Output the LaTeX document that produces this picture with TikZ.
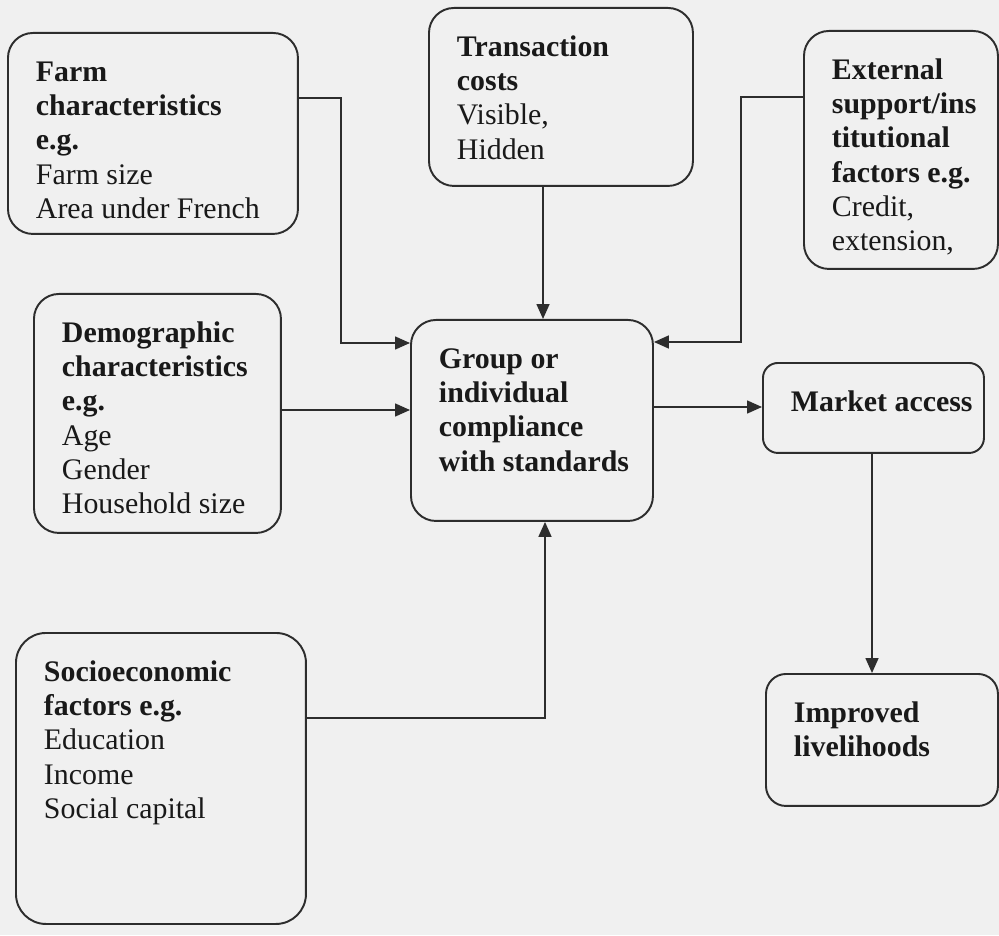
\documentclass[tikz,border=0pt]{standalone}
\usepackage{fontspec}
\setmainfont{Liberation Serif}
\usepackage{tikz}
\usetikzlibrary{arrows.meta,positioning,calc}
\definecolor{pagegray}{RGB}{240,240,240}
\definecolor{inkgray}{RGB}{45,45,45}
\newlength{\pxu}
\setlength{\pxu}{0.02cm}
\newcommand{\boxtext}[3]{\parbox[t][#2\pxu][t]{#1\pxu}{\begin{tabular}[t]{@{}l@{}}#3\end{tabular}}}
\tikzset{
factor/.style = {draw=inkgray, line width=1.1pt, rounded corners=0.5cm, anchor=north west, inner xsep=0.56cm, inner ysep=0.5cm, text=black!90, font=\fontsize{17}{19.4}\selectfont},
link/.style = {draw=inkgray, line width=0.9pt, ->},
}
\begin{document}
\begin{tikzpicture}[x=0.02cm, y=-0.02cm, >={Triangle[length=0.3cm,width=0.26cm]}]
      \fill[pagegray] (0,0) rectangle (999,935);
      \useasboundingbox (0,0) rectangle (999,935);
      \node [factor] (farm) at (7,32)
         {\boxtext{234}{151}{\textbf{Farm}\\\textbf{characteristics}\\\textbf{e.g.}\\Farm size\\Area under French}};
      \node [factor] (trans) at (428,7)
         {\boxtext{208}{128}{\textbf{Transaction}\\\textbf{costs}\\Visible,\\Hidden}};
      \node [factor] (ext) at (803,30)
         {\boxtext{138}{188}{\textbf{External}\\\textbf{support/ins}\\\textbf{titutional}\\\textbf{factors e.g.}\\Credit,\\extension,}};
      \node [factor] (demo) at (33,293)
         {\boxtext{191}{189}{\textbf{Demographic}\\\textbf{characteristics}\\\textbf{e.g.}\\Age\\Gender\\Household size}};
      \node [factor] (group) at (410,319)
         {\boxtext{186}{151}{\textbf{Group or}\\\textbf{individual}\\\textbf{compliance}\\\textbf{with standards}}};
      \node [factor, rounded corners=0.3cm] (market) at (762,362)
         {\boxtext{165}{40}{\textbf{Market access}}};
      \node [factor, rounded corners=0.4cm] (improved) at (765,673)
         {\boxtext{176}{82}{\textbf{Improved}\\\textbf{livelihoods}}};
      \node [factor, rounded corners=0.6cm] (socio) at (15,632)
         {\boxtext{234}{241}{\textbf{Socioeconomic}\\\textbf{factors e.g.}\\Education\\Income\\Social capital}};
      \coordinate (farmbend) at (341,343);
      \coordinate (extbend) at (741,342);
      \draw [link] (farm.east |- 0,98) -| (farmbend) -- (group.west |- farmbend);
      \draw [link] (trans.south -| 543,0) -- (group.north -| 543,0);
      \draw [link] (ext.west |- 0,97) -| (extbend) -- (group.east |- extbend);
      \draw [link] (demo.east |- 0,410) -- (group.west |- 0,410);
      \draw [link] (group.east |- 0,407) -- (market.west |- 0,407);
      \draw [link] (market.south -| 872,0) -- (improved.north -| 872,0);
      \draw [link] (socio.east |- 0,718) -| (group.south -| 545,0);
\end{tikzpicture}
\end{document}
